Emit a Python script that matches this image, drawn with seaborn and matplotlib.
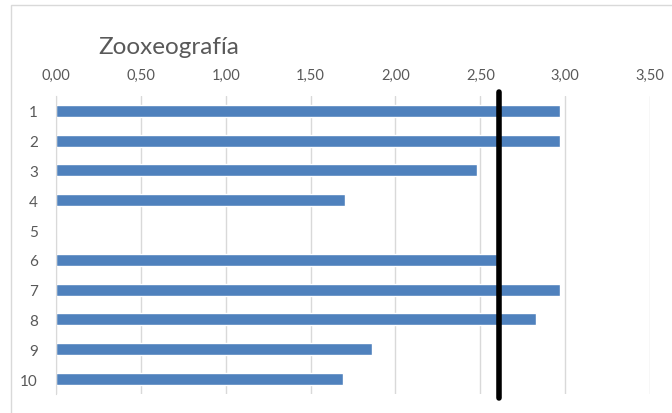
import pandas as pd
import matplotlib.pyplot as plt
import seaborn as sns
from matplotlib.patches import Rectangle

# Values
categories = ['1', '2', '3', '4', '5', '6', '7', '8', '9', '10']
values = [2.97, 2.97, 2.48, 1.70, 0.0, 2.60, 2.97, 2.83, 1.86, 1.69]
reference = 2.61
x_ticks = [0.0, 0.5, 1.0, 1.5, 2.0, 2.5, 3.0, 3.5]

df = pd.DataFrame({'item': categories, 'score': values})

sns.set_style('white')
plt.rcParams['font.family'] = ['Lato', 'DejaVu Sans']

fig = plt.figure(figsize=(6.72, 4.14), dpi=100)
ax = fig.add_axes([0.0833, 0.046, 0.884, 0.72])

sns.barplot(data=df, x='score', y='item', orient='h', color='#4f81bd',
            saturation=1, width=0.4, ax=ax)

# reference line
ax.axvline(reference, ymin=-0.012, ymax=1.012, color='black', linewidth=4,
           clip_on=False, zorder=5)

ax.set_xlim(0, 3.5)
ax.set_ylim(9.5, -0.5)
ax.set_xticks(x_ticks)
ax.set_xticklabels([f'{t:.2f}'.replace('.', ',') for t in x_ticks])
ax.xaxis.tick_top()
ax.grid(axis='x', color='#d9d9d9', linewidth=1)
ax.set_axisbelow(True)
ax.tick_params(axis='x', length=0, labelsize=10.5, labelcolor='#595959', pad=10)
ax.tick_params(axis='y', length=0, labelsize=11, labelcolor='#595959', pad=13)
ax.set_xlabel('')
ax.set_ylabel('')
for s in ['top', 'right', 'bottom']:
    ax.spines[s].set_visible(False)
ax.spines['left'].set_color('#d9d9d9')

fig.text(0.146, 0.885, 'Zooxeografía', fontsize=17.5, color='#595959',
         ha='left', va='center')

# chart area border
fig.patches.append(Rectangle((0.016, -0.01), 0.99, 0.996, transform=fig.transFigure,
                             fill=False, edgecolor='#d9d9d9', linewidth=1))

plt.savefig('out.png', dpi=100)
